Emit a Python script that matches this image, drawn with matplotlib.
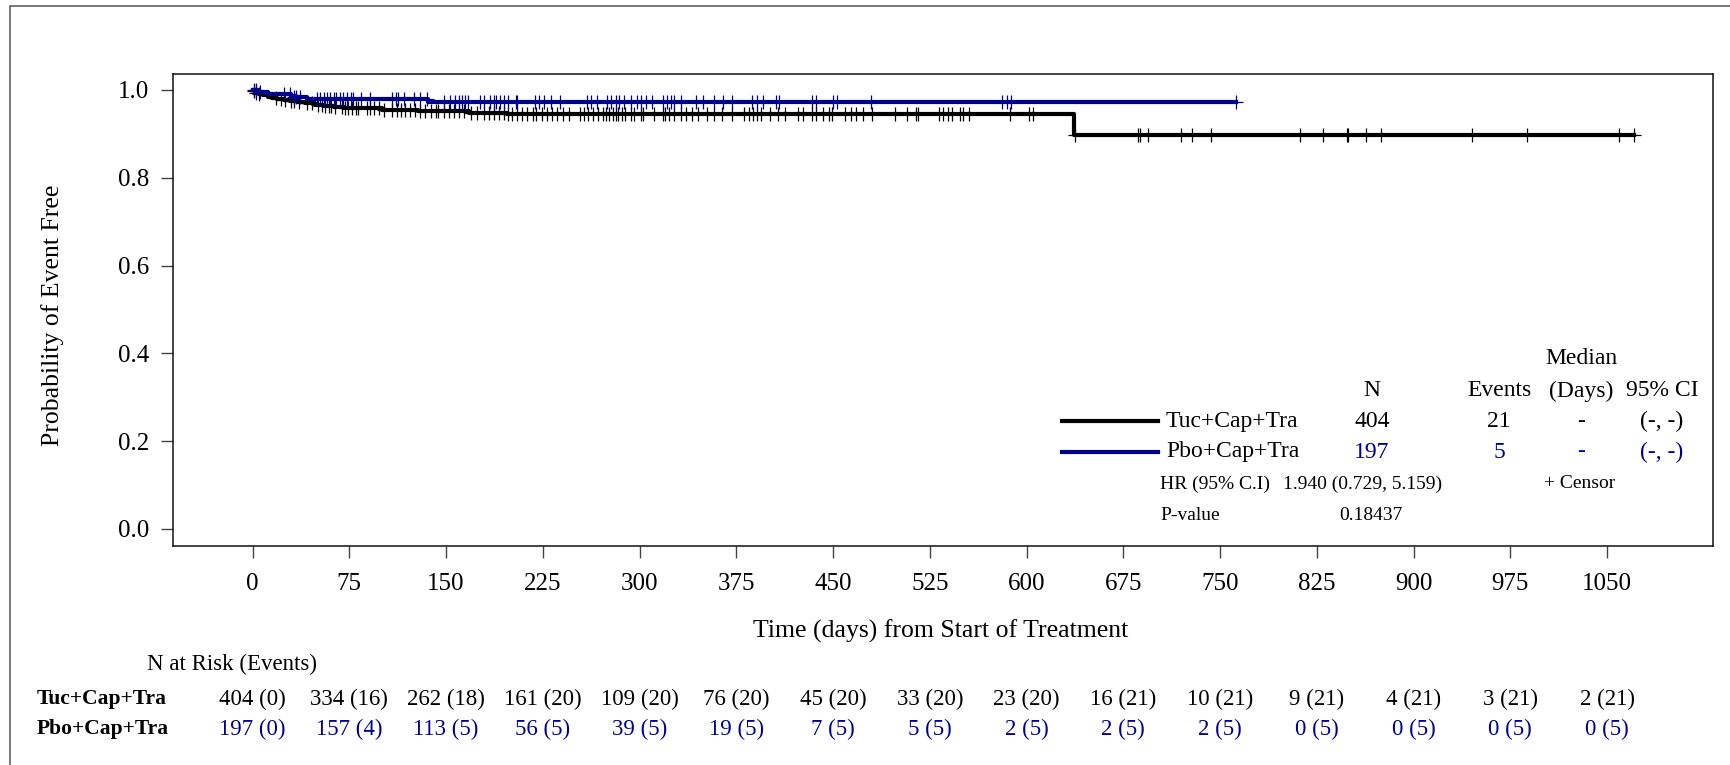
"""Kaplan-Meier plot: Tuc+Cap+Tra vs Pbo+Cap+Tra, with N-at-risk table."""

import numpy as np
import matplotlib
matplotlib.use("Agg")
from matplotlib import pyplot as plt
from matplotlib.lines import Line2D
from matplotlib.patches import Rectangle
from matplotlib.ticker import FormatStrFormatter
from matplotlib.transforms import blended_transform_factory

plt.rcParams["font.family"] = ["Liberation Serif", "DejaVu Serif"]

# ---- data ----
tuc_step_days = [0, 1, 2, 3, 5, 8, 12, 15, 19, 24, 29, 35, 41, 48, 55, 63, 71,
                 100, 128, 168, 197, 637, 1070.5]
tuc_surv = [1.0, 0.9975, 0.9950, 0.9925, 0.9900, 0.9875, 0.9850, 0.9825, 0.9800,
            0.9775, 0.9750, 0.9723, 0.9696, 0.9669, 0.9642, 0.9614, 0.9586,
            0.9555, 0.9522, 0.9485, 0.9450, 0.8975, 0.8975]
tuc_censor_days = [1, 3, 5, 18, 22, 25, 30, 32, 36, 42, 46, 51, 54, 56, 59, 61, 64,
                   69, 72, 74, 77, 80, 82, 89, 91, 94, 98, 102, 108, 112, 115, 118,
                   122, 126, 130, 134, 138, 142, 144, 148, 152, 156, 160, 164, 169,
                   174, 179, 183, 187, 191, 195, 198, 201, 205, 209, 213, 217, 220,
                   224, 228, 232, 236, 241, 245, 254, 257, 260, 264, 268, 272, 274,
                   276, 279, 282, 283, 286, 289, 293, 296, 301, 303, 311, 318, 320,
                   323, 327, 332, 336, 341, 345, 352, 358, 364, 372, 381, 385, 388,
                   391, 394, 401, 407, 413, 423, 427, 434, 437, 442, 447, 449, 459,
                   464, 468, 473, 480, 498, 507, 514, 516, 532, 535, 539, 542, 548,
                   551, 555, 587, 602, 605, 637.5, 686, 688, 694, 720, 728, 743, 812,
                   830, 848, 849, 863, 875, 945, 988, 1059, 1070.5]

pbo_step_days = [0, 4, 12, 30, 42, 136, 762]
pbo_surv = [1.0, 0.995, 0.990, 0.985, 0.980, 0.9725, 0.9725]
pbo_censor_days = [1, 3, 6, 24, 29, 32, 34, 37, 50, 52, 55, 58, 60, 63, 65, 68, 70,
                   73, 76, 78, 84, 91, 108, 111, 113, 117, 125, 130, 135, 148, 153,
                   157, 160, 162, 165, 167, 176, 179, 184, 187, 189, 192, 195, 198,
                   204, 205, 219, 222, 226, 231, 238, 259, 262, 267, 275, 278, 282,
                   284, 288, 293, 298, 301, 305, 310, 318, 321, 324, 327, 332, 344,
                   349, 358, 365, 372, 387, 391, 396, 406, 408, 434, 437, 450, 453,
                   479, 581, 585, 588, 762]

arms = ["Tuc+Cap+Tra", "Pbo+Cap+Tra"]
arm_n = ["404", "197"]
arm_events = ["21", "5"]
arm_median = ["-", "-"]
arm_ci = ["(-, -)", "(-, -)"]
hr_text = "1.940 (0.729, 5.159)"
p_text = "0.18437"

risk_days = [0, 75, 150, 225, 300, 375, 450, 525, 600, 675, 750, 825, 900, 975, 1050]
tuc_at_risk = [404, 334, 262, 161, 109, 76, 45, 33, 23, 16, 10, 9, 4, 3, 2]
tuc_cum_events = [0, 16, 18, 20, 20, 20, 20, 20, 20, 21, 21, 21, 21, 21, 21]
pbo_at_risk = [197, 157, 113, 56, 39, 19, 7, 5, 2, 2, 2, 0, 0, 0, 0]
pbo_cum_events = [0, 4, 5, 5, 5, 5, 5, 5, 5, 5, 5, 5, 5, 5, 5]

BLACK = "#000000"
BLUE = "#00008f"

# ---- layout (reference pixels) ----
W, H = 1730, 765


def fx(x):
    return x / W


def fy(y):
    return 1 - y / H


fig = plt.figure(figsize=(W / 100, H / 100), dpi=100)
ax = fig.add_axes([fx(173), fy(545.5), (1712.5 - 173) / W, (545.5 - 74) / H])

# outer frame, clipped by the figure edge on right and bottom
fig.add_artist(Rectangle((fx(10), fy(800)), fx(1800), (800 - 6) / H,
                         transform=fig.transFigure, fill=False,
                         edgecolor="#555555", lw=1.1))


def surv_at(days, step_days, surv):
    idx = np.searchsorted(step_days, days, side="right") - 1
    return np.asarray(surv)[idx]


ax.step(tuc_step_days, tuc_surv, where="post", color=BLACK, lw=3.0, zorder=3)
ax.plot(tuc_censor_days, surv_at(tuc_censor_days, tuc_step_days, tuc_surv),
        ls="none", marker="+", ms=9.5, mew=0.9, color=BLACK, zorder=3)
ax.step(pbo_step_days, pbo_surv, where="post", color=BLUE, lw=3.0, zorder=4)
ax.plot(pbo_censor_days, surv_at(pbo_censor_days, pbo_step_days, pbo_surv),
        ls="none", marker="+", ms=9.5, mew=0.9, color=BLUE, zorder=4)

ax.set_xlim(-61.7, 1131.7)
ax.set_ylim(-0.038, 1.0364)
ax.set_xticks(risk_days)
ax.set_yticks([0.0, 0.2, 0.4, 0.6, 0.8, 1.0])
ax.yaxis.set_major_formatter(FormatStrFormatter("%.1f"))
ax.tick_params(axis="both", direction="out", length=8.6, width=1.0,
               color="#444444", labelsize=18)
ax.tick_params(axis="x", pad=11)
ax.tick_params(axis="y", pad=8.5)
for sp in ax.spines.values():
    sp.set_linewidth(1.1)
    sp.set_color("#111111")

ax.set_xlabel("Time (days) from Start of Treatment", fontsize=18.5)
ax.xaxis.set_label_coords((941 - 173) / 1539.5, (545.5 - 631) / 471.5)
ax.xaxis.label.set_va("center")
ax.set_ylabel("Probability of Event Free", fontsize=18.5)
ax.yaxis.set_label_coords((53 - 173) / 1539.5, (545.5 - 315) / 471.5)
ax.yaxis.label.set_va("center")

# ---- in-plot legend / statistics table ----
col_x = [1372, 1499, 1581, 1662]
fig.text(fx(1581), fy(359), "Median", fontsize=17, ha="center", va="center")
for cx, head in zip(col_x, ["N", "Events", "(Days)", "95% CI"]):
    fig.text(fx(cx), fy(391), head, fontsize=17, ha="center", va="center")

row_y = [421, 452]
for i, colour in enumerate([BLACK, BLUE]):
    y = row_y[i]
    fig.add_artist(Line2D([fx(1062), fx(1158)], [fy(y), fy(y)],
                          transform=fig.transFigure, color=colour, lw=3.0))
    fig.text(fx(1166), fy(y), arms[i], fontsize=17, ha="left", va="center",
             color=BLACK)
    for cx, val in zip(col_x, [arm_n[i], arm_events[i], arm_median[i], arm_ci[i]]):
        fig.text(fx(cx), fy(y), val, fontsize=17, ha="center", va="center",
                 color=colour)

fig.text(fx(1160), fy(484), "HR (95% C.I)", fontsize=14, ha="left", va="center")
fig.text(fx(1283), fy(484), hr_text, fontsize=14, ha="left", va="center")
fig.text(fx(1544), fy(484), "+ Censor", fontsize=14, ha="left", va="center")
fig.text(fx(1160), fy(515), "P-value", fontsize=14, ha="left", va="center")
fig.text(fx(1371), fy(515), p_text, fontsize=14, ha="center", va="center")

# ---- N at risk table ----
fig.text(fx(147), fy(664), "N at Risk (Events)", fontsize=16.5, ha="left",
         va="center")
row_tf = blended_transform_factory(ax.transData, fig.transFigure)
risk_rows = [(arms[0], tuc_at_risk, tuc_cum_events, BLACK, 699),
             (arms[1], pbo_at_risk, pbo_cum_events, BLUE, 729)]
for name, n_risk, n_ev, colour, y in risk_rows:
    fig.text(fx(37), fy(y), name, fontsize=15.5, fontweight="bold", ha="left",
             va="center")
    for d, n, e in zip(risk_days, n_risk, n_ev):
        ax.text(d, fy(y), f"{n} ({e})", transform=row_tf, fontsize=16.5,
                ha="center", va="center", color=colour, clip_on=False)

fig.savefig("out.png", dpi=100)
